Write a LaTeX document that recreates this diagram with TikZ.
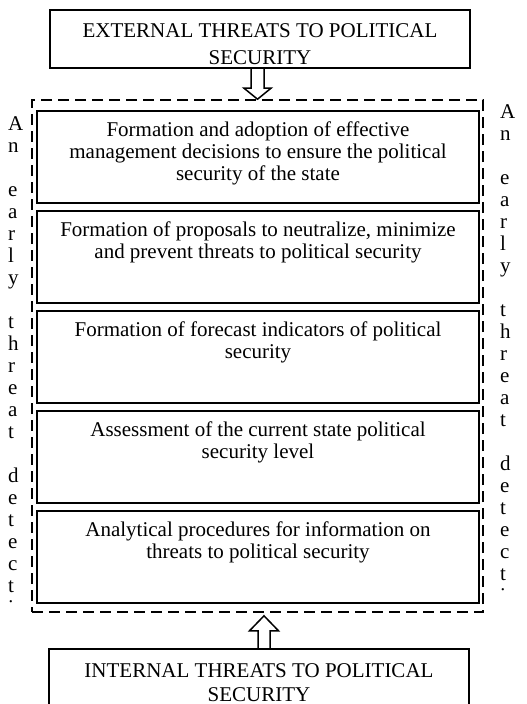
\documentclass[tikz,border=0pt]{standalone}
\usepackage{fontspec}
\setmainfont{Liberation Serif}
\usetikzlibrary{calc}

\begin{document}
\begin{tikzpicture}[x=1pt,y=-1pt,
  txt/.style={font=\fontsize{21}{22}\selectfont, align=center, inner sep=0pt, anchor=north},
  captxt/.style={font=\fontsize{21}{24}\selectfont, align=center, inner sep=0pt, anchor=north},
  letters/.style={font=\fontsize{21}{22}\selectfont, align=left, inner sep=0pt, anchor=north west},
  stage/.style={draw, line width=2.2pt, minimum width=442pt, minimum height=92pt, inner sep=0pt},
  threatbox/.style={draw, line width=2pt, minimum width=420pt, inner sep=0pt},
  dashframe/.style={draw, line width=1.6pt, dash pattern=on 11pt off 6pt, minimum width=451pt, minimum height=512pt, inner sep=0pt},
  blockarrow/.style={draw, line width=1.5pt, line join=miter}
]
\useasboundingbox (0,0) rectangle (527,704);
\clip (0,0) rectangle (527,704);

% dashed frame around the five stages
\node[dashframe] (frame) at (257.5,356) {};

% the five stages
\node[stage] (s1) at (258,157) {};
\node[stage] (s2) at (258,257) {};
\node[stage] (s3) at (258,357) {};
\node[stage] (s4) at (258,457) {};
\node[stage] (s5) at (258,557) {};

\node[txt] (t1) at ($(s1.north)+(0,11.5)$) {Formation and adoption of effective\\management decisions to ensure the political\\security of the state};
\node[txt] (t2) at ($(s2.north)+(0,11.5)$) {Formation of proposals to neutralize, minimize\\and prevent threats to political security};
\node[txt] (t3) at ($(s3.north)+(0,11.5)$) {Formation of forecast indicators of political\\security};
\node[txt] (t4) at ($(s4.north)+(0,11.5)$) {Assessment of the current state political\\security level};
\node[txt] (t5) at ($(s5.north)+(0,11.5)$) {Analytical procedures for information on\\threats to political security};

% external and internal threat boxes
\node[threatbox, minimum height=58pt] (ext) at (260,39) {};
\node[threatbox, minimum height=80pt] (int) at (259,689) {};

% text in the threat boxes is clipped by the box frame
\begin{scope}
  \clip ($(ext.north west)+(1,1)$) rectangle ($(ext.south east)+(-1,-4)$);
  \node[captxt, font=\fontsize{21}{27}\selectfont] (extlabel) at ($(ext.north)+(0,14)$) {EXTERNAL THREATS TO POLITICAL\\SECURITY};
\end{scope}
\begin{scope}
  \clip ($(int.north west)+(1,1)$) rectangle ($(int.south east)+(-1,-1)$);
  \node[captxt] (intlabel) at ($(int.north)+(0,15)$) {INTERNAL THREATS TO POLITICAL\\SECURITY};
\end{scope}

% hollow arrows
\draw[blockarrow] ($(frame.north |- ext.south)+(-6.5,0)$) -- ($(frame.north)+(-6.5,-11)$)
  -- ($(frame.north)+(-13.5,-11)$) -- (frame.north) -- ($(frame.north)+(13.5,-11)$)
  -- ($(frame.north)+(6.5,-11)$) -- ($(frame.north |- ext.south)+(6.5,0)$);

\coordinate (uptip) at ($(int.north |- frame.south)+(5,3)$);
\draw[blockarrow] ($(int.north)+(-1,0)$) -- ($(uptip)+(-6,15)$)
  -- ($(uptip)+(-14.5,15)$) -- (uptip) -- ($(uptip)+(14.5,15)$)
  -- ($(uptip)+(6,15)$) -- ($(int.north)+(11,0)$);

% vertical side captions
\begin{scope}
  \clip (0,100) rectangle (30,603);
  \node[letters] (leftcap) at (8,116) {A\\n\\~\\e\\a\\r\\l\\y\\~\\t\\h\\r\\e\\a\\t\\~\\d\\e\\t\\e\\c\\t\\i\\o\\n};
\end{scope}
\begin{scope}
  \clip (490,90) rectangle (527,591);
  \node[letters] (rightcap) at (500,104) {A\\n\\~\\e\\a\\r\\l\\y\\~\\t\\h\\r\\e\\a\\t\\~\\d\\e\\t\\e\\c\\t\\i\\o\\n};
\end{scope}
\end{tikzpicture}
\end{document}
